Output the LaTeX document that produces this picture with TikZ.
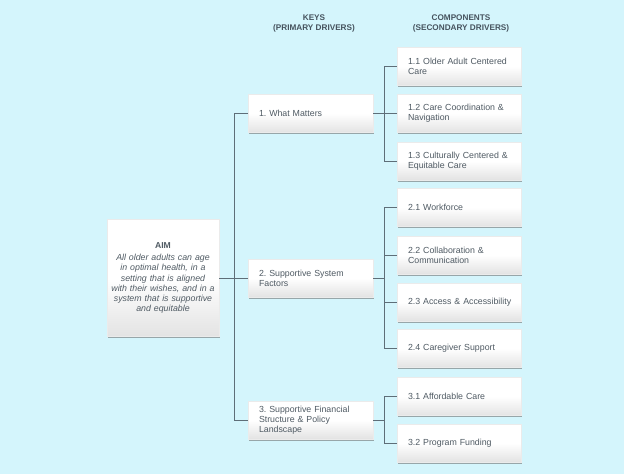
\documentclass[tikz,border=0pt]{standalone}
\usepackage{fontspec}
\setmainfont{Liberation Sans}
\usetikzlibrary{shadows}
\definecolor{bg}{HTML}{D4F5FC}
\definecolor{txt}{HTML}{4F5A63}
\definecolor{hdr}{HTML}{46535E}
\definecolor{ln}{HTML}{5E6E78}
\begin{document}
\frenchspacing
\begin{tikzpicture}[x=1pt,y=-1pt,
  box/.style={rectangle, inner sep=0pt, minimum height=38pt,
    top color=white, bottom color=black!11, middle color=white,
    draw=black!8, line width=0.4pt,
    drop shadow={shadow xshift=0.8pt, shadow yshift=-1.8pt, opacity=0.55, fill=black!60},
    font=\fontsize{8.8}{10.2}\selectfont, text=txt},
  sec/.style={box, minimum width=124pt, text width=102pt, align=left},
  pri/.style={box, minimum width=125pt, text width=103pt, align=left},
  hd/.style={font=\bfseries\fontsize{8.2}{10.5}\selectfont, text=hdr, align=center},
  conn/.style={draw=ln, line width=0.6pt}]
\fill[bg] (0,0) rectangle (624,474);
\useasboundingbox (0,0) rectangle (624,474);

\node[hd] (hk) at (314,23.5) {KEYS\\(PRIMARY DRIVERS)};
\node[hd] (hc) at (461,23.5) {COMPONENTS\\(SECONDARY DRIVERS)};

\node[box, minimum width=110pt, minimum height=117pt, text width=112pt, align=center] (aim) at (163,278)
  {{\bfseries\fontsize{8.6}{10}\selectfont AIM}\\[2pt]
   \itshape All older adults can age\\ in optimal health, in a\\ setting that is aligned\\ with their wishes, and in a\\ system that is supportive\\ and equitable};

\node[pri] (p1) at (310.5,113.5) {1. What Matters};
\node[pri] (p2) at (310.5,278) {2. Supportive System\\Factors};
\node[pri] (p3) at (310.5,420) {3. Supportive Financial\\Structure \& Policy\\Landscape};

\node[sec] (c11) at (459,66.5) {1.1 Older Adult Centered\\Care};
\node[sec] (c12) at (459,113.5) {1.2 Care Coordination \&\\Navigation};
\node[sec] (c13) at (459,161) {1.3 Culturally Centered \&\\Equitable Care};
\node[sec] (c21) at (459,207.5) {2.1 Workforce};
\node[sec] (c22) at (459,255) {2.2 Collaboration \&\\Communication};
\node[sec] (c23) at (459,302) {\mbox{2.3 Access \& Accessibility}\hfill};
\node[sec] (c24) at (459,348.5) {2.4 Caregiver Support};
\node[sec] (c31) at (459,396.5) {3.1 Affordable Care};
\node[sec] (c32) at (459,443) {3.2 Program Funding};

\coordinate (j0) at (234,0);
\coordinate (j1) at (384,0);

% aim to primary
\draw[conn] (aim.east) -- (p2.west);
\draw[conn] (p1.west) -- (p1.west -| j0) -- (p3.west -| j0) -- (p3.west);

% group 1
\draw[conn] (p1.east) -- (c12.west);
\draw[conn] (c11.west) -- (c11.west -| j1) -- (c13.west -| j1) -- (c13.west);

% group 2
\draw[conn] (p2.east) -- (p2.east -| j1);
\draw[conn] (c21.west) -- (c21.west -| j1) -- (c24.west -| j1) -- (c24.west);
\draw[conn] (c22.west) -- (c22.west -| j1);
\draw[conn] (c23.west) -- (c23.west -| j1);

% group 3
\draw[conn] (p3.east) -- (p3.east -| j1);
\draw[conn] (c31.west) -- (c31.west -| j1) -- (c32.west -| j1) -- (c32.west);
\end{tikzpicture}
\end{document}
